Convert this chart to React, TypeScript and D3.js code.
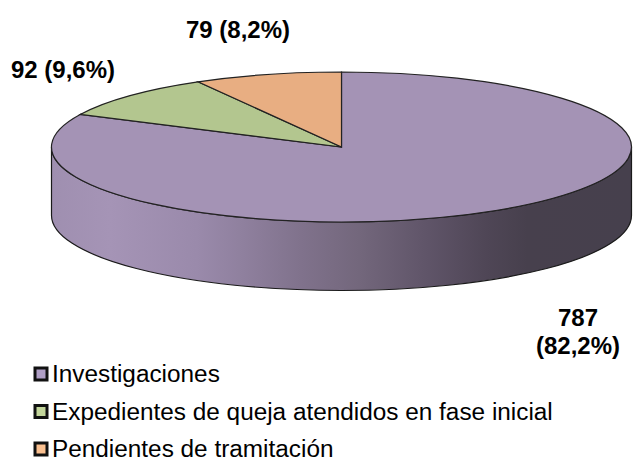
import React from "react";
import * as d3 from "d3";

const categories = ["Investigaciones", "Expedientes de queja atendidos en fase inicial", "Pendientes de tramitación"];
const values = [787, 92, 79];
const sliceColors = ["#a493b5", "#b3c68f", "#e8ae82"];
const legendColors = ["#b09fc6", "#c3d69b", "#fac090"];
const dataLabels = [["787", "(82,2%)"], ["92 (9,6%)"], ["79 (8,2%)"]];
const labelPos = [[578, 326], [63, 78], [238, 38]];
const sideStops = [
  [0, "#9f8fb0"], [0.1, "#a594b6"], [0.25, "#9a8aab"], [0.33, "#8f809e"], [0.43, "#80728c"],
  [0.53, "#73677c"], [0.65, "#5f5468"], [0.75, "#4f4656"], [0.82, "#47404d"], [1, "#46404d"],
];

const W = 633, H = 457, cx = 341.5, cy = 147, rx = 290, ry = 75, depth = 68.5;

export default function App() {
  const pie = d3.pie<number>().sort(null).value((d) => d)(values);
  const arc = d3.arc<d3.PieArcDatum<number>>().innerRadius(0).outerRadius(1);
  const x = d3.scaleLinear().domain([-1, 1]).range([cx - rx, cx + rx]);
  const y = d3.scaleLinear().domain([-1, 1]).range([cy - ry, cy + ry]);
  const sx = (x(1) - x(-1)) / 2, sy = (y(1) - y(-1)) / 2;
  const side = `M${cx - rx},${cy} V${cy + depth} A${rx},${ry} 0 0 0 ${cx + rx},${cy + depth} V${cy} A${rx},${ry} 0 0 1 ${cx - rx},${cy} Z`;
  const legendY = d3.scalePoint<string>().domain(categories).range([382, 457]);
  return (
    <svg width={W} height={H} style={{ position: "absolute", left: 0, top: 0 }} fontFamily="'Liberation Sans', Arial, sans-serif">
      <defs>
        <linearGradient id="side" gradientUnits="userSpaceOnUse" x1={cx - rx} x2={cx + rx} y1={0} y2={0}>
          {sideStops.map(([o, c], i) => <stop key={i} offset={o as number} stopColor={c as string} />)}
        </linearGradient>
      </defs>
      <path d={side} fill="url(#side)" stroke="#1a1a1a" strokeWidth={1.2} />
      <g transform={`translate(${cx},${cy}) scale(${sx},${sy})`}>
        {pie.map((p, i) => (
          <path key={i} d={arc(p) ?? ""} fill={sliceColors[i]} stroke="#222" strokeWidth={1.2} vectorEffect="non-scaling-stroke" />
        ))}
      </g>
      {dataLabels.map((lines, i) => (
        <text key={i} textAnchor="middle" fontWeight="bold" fontSize={24} fill="#000">
          {lines.map((l, j) => <tspan key={j} x={labelPos[i][0]} y={labelPos[i][1] + j * 28}>{l}</tspan>)}
        </text>
      ))}
      {categories.map((c, i) => {
        const ly = legendY(c) as number;
        return (
          <g key={c}>
            <rect x={35} y={ly - 14} width={12} height={12} fill={legendColors[i]} stroke="#111" strokeWidth={3} />
            <text x={52} y={ly} fontSize={24.35} fill="#000">{c}</text>
          </g>
        );
      })}
    </svg>
  );
}
